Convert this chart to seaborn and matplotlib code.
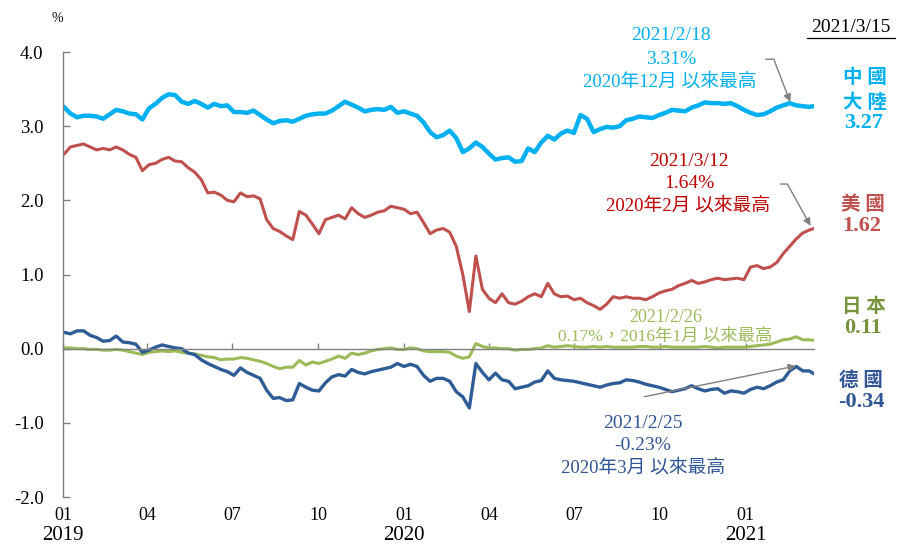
import matplotlib
matplotlib.use('Agg')
import matplotlib.pyplot as plt
import matplotlib.dates as mdates
import matplotlib.transforms as mtransforms
from matplotlib.lines import Line2D
import pandas as pd
import seaborn as sns

# ---------------- data (weekly readings, %) ----------------
week_start = '2019-01-02'
n_weeks = 115
last_date = '2021-03-15'

china = [3.26, 3.17, 3.12, 3.14, 3.14, 3.13, 3.10, 3.16, 3.22, 3.20,
         3.17, 3.16, 3.09, 3.24, 3.30, 3.38, 3.43, 3.42, 3.33, 3.30,
         3.34, 3.30, 3.25, 3.30, 3.27, 3.28, 3.19, 3.19, 3.18, 3.21,
         3.15, 3.09, 3.04, 3.07, 3.08, 3.06, 3.10, 3.14, 3.16, 3.17,
         3.17, 3.21, 3.27, 3.33, 3.29, 3.25, 3.20, 3.22, 3.23, 3.22,
         3.26, 3.18, 3.20, 3.17, 3.14, 3.05, 2.92, 2.85, 2.88, 2.94,
         2.84, 2.65, 2.70, 2.78, 2.72, 2.63, 2.55, 2.57, 2.58, 2.52,
         2.53, 2.70, 2.65, 2.78, 2.87, 2.82, 2.90, 2.94, 2.91, 3.15,
         3.10, 2.92, 2.96, 2.99, 2.98, 3.00, 3.08, 3.10, 3.13, 3.12,
         3.11, 3.15, 3.18, 3.22, 3.21, 3.20, 3.25, 3.28, 3.32, 3.31,
         3.31, 3.30, 3.31, 3.27, 3.22, 3.18, 3.15, 3.16, 3.20, 3.25,
         3.28, 3.31, 3.28, 3.27, 3.26, 3.27]

us = [2.62, 2.72, 2.74, 2.76, 2.72, 2.68, 2.70, 2.68, 2.72, 2.68,
      2.62, 2.58, 2.40, 2.48, 2.50, 2.55, 2.58, 2.53, 2.52, 2.44,
      2.38, 2.28, 2.10, 2.11, 2.07, 2.00, 1.98, 2.10, 2.05, 2.06,
      2.02, 1.74, 1.62, 1.58, 1.52, 1.47, 1.85, 1.80, 1.68, 1.55,
      1.74, 1.77, 1.80, 1.75, 1.90, 1.82, 1.77, 1.80, 1.84, 1.86,
      1.92, 1.90, 1.88, 1.82, 1.84, 1.70, 1.55, 1.60, 1.62, 1.57,
      1.38, 1.00, 0.50, 1.25, 0.80, 0.68, 0.62, 0.74, 0.62, 0.60,
      0.64, 0.70, 0.74, 0.70, 0.88, 0.74, 0.70, 0.71, 0.66, 0.68,
      0.62, 0.58, 0.53, 0.60, 0.70, 0.68, 0.70, 0.68, 0.68, 0.66,
      0.70, 0.75, 0.78, 0.80, 0.85, 0.88, 0.92, 0.88, 0.90, 0.93,
      0.95, 0.93, 0.94, 0.95, 0.93, 1.10, 1.12, 1.08, 1.10, 1.16,
      1.28, 1.38, 1.48, 1.56, 1.60, 1.62]

japan = [0.01, 0.01, 0.00, 0.00, -0.01, -0.01, -0.02, -0.02, -0.01, -0.02,
         -0.04, -0.06, -0.08, -0.05, -0.04, -0.03, -0.04, -0.03, -0.05, -0.06,
         -0.07, -0.09, -0.11, -0.12, -0.15, -0.14, -0.14, -0.12, -0.13, -0.15,
         -0.17, -0.20, -0.24, -0.27, -0.25, -0.25, -0.16, -0.22, -0.18, -0.20,
         -0.17, -0.14, -0.10, -0.13, -0.06, -0.08, -0.06, -0.03, -0.01, 0.00,
         0.01, -0.01, -0.01, 0.01, 0.00, -0.03, -0.04, -0.04, -0.04, -0.05,
         -0.10, -0.13, -0.11, 0.07, 0.03, 0.01, 0.01, 0.00, 0.00, -0.02,
         -0.01, -0.01, 0.00, 0.01, 0.04, 0.02, 0.03, 0.04, 0.03, 0.02,
         0.02, 0.03, 0.02, 0.03, 0.02, 0.02, 0.02, 0.02, 0.03, 0.03,
         0.02, 0.02, 0.03, 0.02, 0.02, 0.02, 0.02, 0.02, 0.03, 0.02,
         0.01, 0.02, 0.02, 0.02, 0.02, 0.03, 0.04, 0.05, 0.06, 0.09,
         0.12, 0.13, 0.16, 0.12, 0.12, 0.11]

germany = [0.22, 0.20, 0.24, 0.24, 0.18, 0.15, 0.10, 0.11, 0.17, 0.09,
           0.08, 0.06, -0.05, -0.02, 0.02, 0.05, 0.03, 0.01, 0.00, -0.06,
           -0.08, -0.15, -0.20, -0.24, -0.28, -0.31, -0.36, -0.26, -0.32, -0.36,
           -0.40, -0.56, -0.67, -0.66, -0.70, -0.69, -0.47, -0.52, -0.56, -0.57,
           -0.46, -0.38, -0.35, -0.37, -0.28, -0.32, -0.34, -0.31, -0.29, -0.27,
           -0.25, -0.20, -0.24, -0.21, -0.24, -0.36, -0.44, -0.40, -0.40, -0.44,
           -0.58, -0.65, -0.80, -0.20, -0.32, -0.42, -0.33, -0.42, -0.44, -0.54,
           -0.52, -0.50, -0.45, -0.43, -0.30, -0.40, -0.42, -0.43, -0.44, -0.46,
           -0.48, -0.50, -0.52, -0.49, -0.47, -0.46, -0.42, -0.43, -0.45, -0.48,
           -0.50, -0.52, -0.55, -0.58, -0.56, -0.54, -0.50, -0.54, -0.57, -0.55,
           -0.54, -0.60, -0.57, -0.58, -0.60, -0.55, -0.52, -0.54, -0.50, -0.45,
           -0.42, -0.30, -0.24, -0.30, -0.30, -0.34]

series_names = ['日本', '德國', '美國', '中國大陸']
series_values = [japan, germany, us, china]
line_colors = ['#9BBB59', '#2E5C97', '#C0504D', '#00B0F0']
line_widths = [2.2, 2.4, 2.2, 3.2]

tick_dates = ['2019-01-01', '2019-04-01', '2019-07-01', '2019-10-01',
              '2020-01-01', '2020-04-01', '2020-07-01', '2020-10-01',
              '2021-01-01']
tick_labels = ['01', '04', '07', '10', '01', '04', '07', '10', '01']
year_labels = {'2019-01-01': '2019', '2020-01-01': '2020', '2021-01-01': '2021'}
y_ticks = [4.0, 3.0, 2.0, 1.0, 0.0, -1.0, -2.0]

# ---------------- figure ----------------
sns.set_theme(style='white')
plt.rcParams['font.family'] = ['Liberation Serif', 'Noto Sans CJK TC']
plt.rcParams['axes.unicode_minus'] = False

W, H = 897, 548
fig = plt.figure(figsize=(W / 100, H / 100), dpi=100)
x0, x1, y0, y1 = 63, 814, 52, 497
ax = fig.add_axes([x0 / W, 1 - y1 / H, (x1 - x0) / W, (y1 - y0) / H])

dates = list(pd.date_range(week_start, periods=n_weeks, freq='7D')) + [pd.Timestamp(last_date)]
frames = [pd.DataFrame({'date': dates, 'value': v, 'series': n})
          for n, v in zip(series_names, series_values)]
df = pd.concat(frames, ignore_index=True)

for name, color, lw in zip(series_names, line_colors, line_widths):
    sns.lineplot(data=df[df['series'] == name], x='date', y='value',
                 color=color, linewidth=lw, ax=ax, legend=False)

ax.set_xlim(pd.Timestamp('2019-01-01'), pd.Timestamp(last_date))
ax.set_ylim(-2.0, 4.0)
ax.set_xlabel('')
ax.set_ylabel('')

gray = '#808080'
for s in ['top', 'right']:
    ax.spines[s].set_visible(False)
ax.spines['left'].set_color(gray)
ax.spines['left'].set_linewidth(1.0)
ax.spines['bottom'].set_position(('data', 0))
ax.spines['bottom'].set_color(gray)
ax.spines['bottom'].set_linewidth(1.0)

ax.set_yticks(y_ticks)
ax.set_yticklabels([f'{t:.1f}' for t in y_ticks])
ax.tick_params(axis='y', direction='in', length=5, width=1, color=gray,
               pad=14, labelsize=13.5, labelcolor='black', left=True)
tick_nums = [mdates.date2num(pd.Timestamp(d)) for d in tick_dates]
ax.set_xticks(tick_nums)
ax.tick_params(axis='x', direction='in', length=4.5, width=1, color=gray,
               labelbottom=False, bottom=True)

blend = mtransforms.blended_transform_factory(ax.transData, fig.transFigure)
for d, n, lab in zip(tick_dates, tick_nums, tick_labels):
    ax.text(n, 1 - 516 / H, lab, transform=blend, ha='center', va='center',
            fontsize=13, color='black', clip_on=False)
    if d in year_labels:
        ax.text(n, 1 - 536 / H, year_labels[d], transform=blend, ha='center',
                va='center', fontsize=15, color='black', clip_on=False)


def ftext(px, py, s, **kw):
    fig.text(px / W, 1 - py / H, s, ha='center', va='center', **kw)


# unit and date
ftext(57, 19, '%', fontsize=10, color='black')
ftext(851, 27, '2021/3/15', fontsize=14, color='black')
fig.add_artist(Line2D([807 / W, 895 / W], [1 - 38 / H, 1 - 38 / H],
                      transform=fig.transFigure, color='black', lw=0.9))

# annotations
arrow_gray = '#7F7F7F'


def arrow(date, val, dx, dy, conn):
    ax.annotate('', xy=(mdates.date2num(pd.Timestamp(date)), val),
                xytext=(dx, dy), textcoords='offset pixels',
                arrowprops=dict(arrowstyle='-|>', color=arrow_gray, lw=1.0,
                                connectionstyle=conn, shrinkA=0, shrinkB=1,
                                mutation_scale=11))


c_cn, c_us_t, c_jp_t, c_de_t = '#00B0F0', '#C00000', '#9BBB59', '#2F5597'
ftext(671, 36, '2021/2/18', fontsize=14, color=c_cn)
ftext(671, 59, '3.31%', fontsize=14, color=c_cn)
ftext(670, 82, '2020年12月 以來最高', fontsize=13.5, color=c_cn)
arrow('2021-02-18', 3.31, -25, 44, 'angle,angleA=0,angleB=111,rad=0')

ftext(689, 162, '2021/3/12', fontsize=14, color=c_us_t)
ftext(689, 184, '1.64%', fontsize=14, color=c_us_t)
ftext(688, 206, '2020年2月 以來最高', fontsize=13.5, color=c_us_t)
arrow('2021-03-12', 1.64, -31, 43, 'angle,angleA=0,angleB=119,rad=0')

ftext(666, 317, '2021/2/26', fontsize=13, color=c_jp_t)
ftext(665, 337, '0.17%，2016年1月 以來最高', fontsize=12.5, color=c_jp_t)

ftext(643, 423, '2021/2/25', fontsize=14, color=c_de_t)
ftext(643, 445, '-0.23%', fontsize=14, color=c_de_t)
ftext(643, 468, '2020年3月 以來最高', fontsize=13.5, color=c_de_t)
arrow('2021-02-25', -0.23, -153, -31, 'arc3,rad=0')

# right-side labels
ftext(865, 78, '中 國', fontsize=14, fontweight='bold', color='#00B0F0')
ftext(865, 103, '大 陸', fontsize=14, fontweight='bold', color='#00B0F0')
ftext(864, 123, '3.27', fontsize=16, fontweight='bold', color='#00B0F0')
ftext(863, 205, '美 國', fontsize=14, fontweight='bold', color='#C0504D')
ftext(862, 226, '1.62', fontsize=16, fontweight='bold', color='#C0504D')
ftext(864, 307, '日 本', fontsize=14, fontweight='bold', color='#77933C')
ftext(863, 328, '0.11', fontsize=16, fontweight='bold', color='#77933C')
ftext(861, 381, '德 國', fontsize=14, fontweight='bold', color='#2F5597')
ftext(861, 402, '-0.34', fontsize=16, fontweight='bold', color='#2F5597')

fig.savefig('out.png', dpi=100)
